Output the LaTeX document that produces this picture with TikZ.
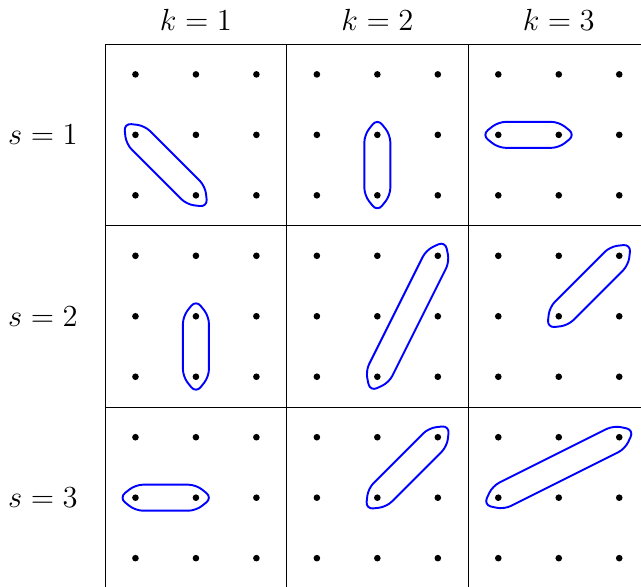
\documentclass[tikz,border=0pt]{standalone}
\usepackage{amsmath}
\usetikzlibrary{calc}

\newcommand{\capw}{0.215cm}% half width
\newcommand{\capt}{0.27cm}% tip beyond the dot
% pointed loop round two dots
\newcommand{\capsule}[2]{%
  \draw[capsule] let \p1 = ($(#2.center)-(#1.center)$), \n1 = {atan2(\y1,\x1)} in
    ($(#1.center)+(\n1+90:\capw)$) -- ($(#2.center)+(\n1+90:\capw)$)
    -- ($(#2.center)+(\n1:\capt)$) -- ($(#2.center)+(\n1-90:\capw)$)
    -- ($(#1.center)+(\n1-90:\capw)$) -- ($(#1.center)+(\n1+180:\capt)$) -- cycle;}

\begin{document}
\begin{tikzpicture}[
    cell/.style={draw, line width=0.4pt, minimum size=3cm, inner sep=0pt, outer sep=0pt, anchor=north west},
    dot/.style={circle, fill, inner sep=1.1pt},
    lbl/.style={font=\fontsize{13.3}{16}\selectfont},
    capsule/.style={draw=blue, line width=0.9pt, rounded corners=3.5pt}
  ]
    \useasboundingbox (-1.74,0.73) rectangle (8.86,-8.97);

    \foreach \s in {1,2,3}
      \foreach \k in {1,2,3} {
        \node[cell] (c-\s-\k) at ({3*(\k-1)},{-3*(\s-1)}) {};
        \foreach \r in {1,2,3}
          \foreach \c in {1,2,3}
            \node[dot] (d-\s-\k-\r-\c) at ({3*(\k-1)+\c-0.5},{-3*(\s-1)-\r+0.5}) {};
      }

    \foreach \k in {1,2,3}
      \node[lbl] (k\k) at ({3*\k-1.5},0.4) {$k=\k$};
    \foreach \s in {1,2,3}
      \node[lbl] (s\s) at (-1.03,{-3*\s+1.5}) {$s=\s$};

    \foreach \s/\k/\a/\b in {1/1/2-1/3-2, 1/2/2-2/3-2, 1/3/2-1/2-2,
                             2/1/2-2/3-2, 2/2/3-2/1-3, 2/3/2-2/1-3,
                             3/1/2-1/2-2, 3/2/2-2/1-3, 3/3/2-1/1-3}
      \capsule{d-\s-\k-\a}{d-\s-\k-\b};
  \end{tikzpicture}
\end{document}
